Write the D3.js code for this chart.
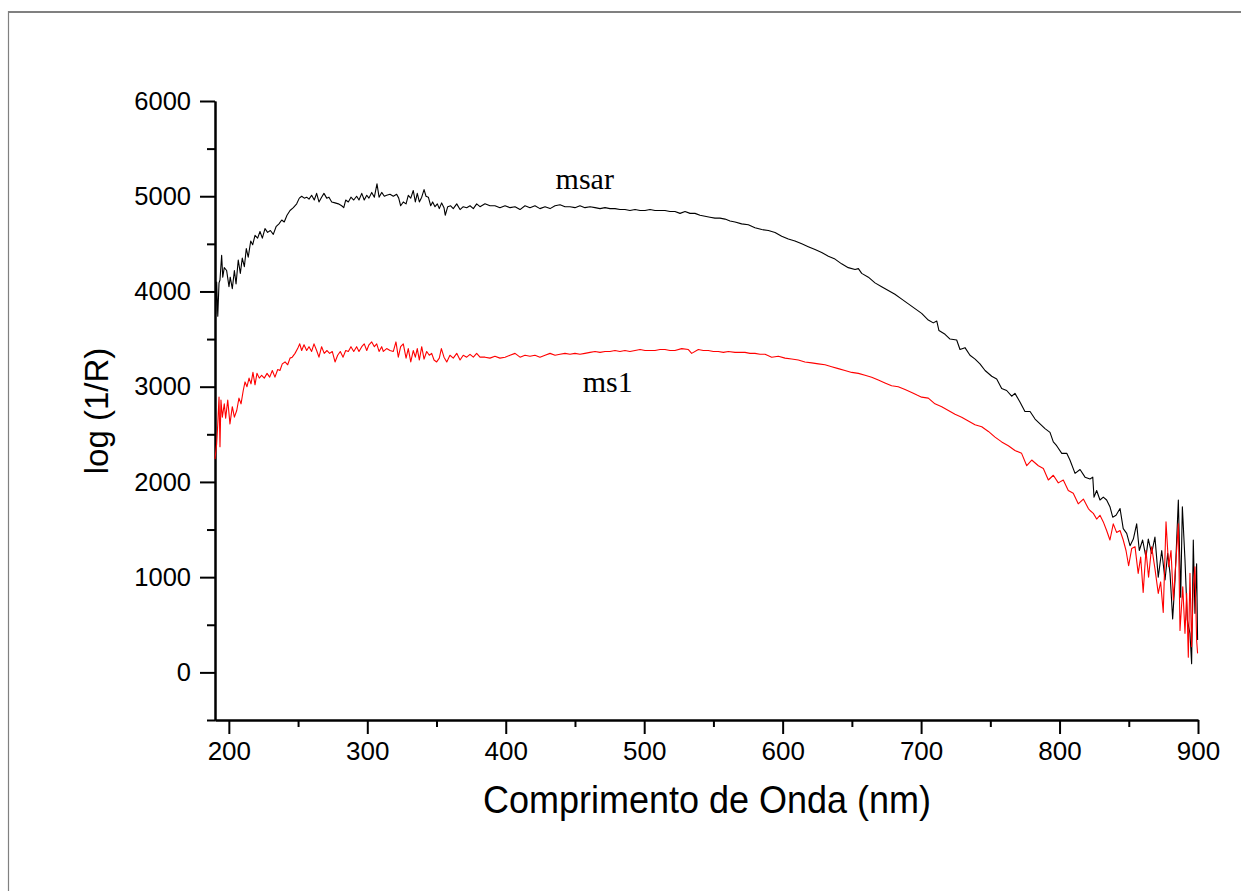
<!DOCTYPE html>
<html>
<head>
<meta charset="utf-8">
<script src="https://cdn.jsdelivr.net/npm/d3@7"></script>
<style>
  html, body { margin: 0; padding: 0; background: #fff; }
  svg { display: block; }
</style>
</head>
<body>
<svg id="chart" width="1241" height="891"></svg>
<script>
// ===== Dades (llegides de la figura) =====
const xMajor = [200, 300, 400, 500, 600, 700, 800, 900];
const xMinor = [250, 350, 450, 550, 650, 750, 850];
const yMajor = [0, 1000, 2000, 3000, 4000, 5000, 6000];
const yMinor = [-500, 500, 1500, 2500, 3500, 4500, 5500];

// [nm, log(1/R)]
const msar = [
  [190.5,3760],[191.2,4100],[192.0,3740],[192.9,4090],[193.6,4120],[194.8,4380],[195.6,4150],[196.7,4250],
  [198.4,4220],[200.1,4050],[201.0,4150],[202.5,4030],[204.0,4220],[205.2,4080],[206.8,4330],[208.3,4190],
  [209.7,4350],[211.2,4260],[212.6,4450],[214.0,4360],[215.8,4530],[217.2,4490],[218.9,4590],[220.8,4560],
  [222.5,4630],[224.2,4560],[226.1,4660],[228.0,4620],[230.0,4640],[232.1,4600],[234.1,4680],[236.2,4710],
  [238.2,4750],[240.0,4730],[242.0,4800],[244.2,4850],[246.6,4880],[249.0,4920],[250.9,4980],[252.6,5000],
  [254.5,4980],[256.2,4990],[257.9,4970],[259.8,5010],[261.7,4960],[263.4,5030],[265.1,4940],[267.0,4990],
  [268.7,5030],[270.7,4980],[272.3,4990],[274.3,4940],[276.7,4930],[279.1,4920],[281.5,4900],[283.0,4880],
  [284.4,4960],[286.3,4940],[288.2,4990],[290.2,4960],[292.3,5000],[294.0,4960],[296.0,5030],[297.8,4960],
  [299.6,5010],[301.2,4980],[303.2,5040],[305.1,4990],[307.0,5130],[308.5,4990],[310.4,5040],[312.3,5000],
  [314.0,5010],[316.4,5020],[318.8,5000],[321.2,5020],[322.7,4980],[324.1,4900],[326.0,4940],[328.0,4920],
  [329.6,5010],[331.4,4980],[333.2,5060],[334.7,4940],[336.1,5030],[337.6,4940],[339.3,4990],[341.0,5070],
  [342.4,5000],[344.1,4990],[345.8,4900],[347.2,4940],[348.9,4890],[350.6,4920],[352.0,4870],[353.7,4930],
  [355.4,4880],[356.3,4800],[358.1,4890],[360.2,4900],[362.1,4870],[364.6,4920],[367.0,4860],[369.3,4890],
  [371.8,4880],[374.2,4900],[376.6,4870],[379.0,4920],[381.4,4890],[385.0,4920],[388.6,4900],[392.2,4900],
  [395.8,4880],[399.5,4900],[403.1,4880],[406.7,4890],[410.3,4860],[413.9,4900],[417.5,4880],[421.1,4900],
  [424.7,4870],[428.4,4890],[432.0,4870],[435.6,4900],[439.2,4910],[442.8,4890],[446.4,4890],[450.0,4880],
  [453.6,4900],[457.2,4880],[460.9,4890],[464.5,4880],[468.1,4870],[471.7,4880],[475.3,4870],[478.9,4870],
  [482.5,4860],[486.1,4860],[489.7,4850],[493.4,4860],[497.0,4850],[500.6,4850],[504.2,4860],[507.8,4850],
  [511.4,4850],[515.0,4850],[518.6,4840],[522.2,4840],[525.9,4820],[529.5,4840],[533.1,4820],[536.7,4820],
  [540.3,4800],[543.9,4790],[547.5,4780],[551.1,4770],[554.7,4770],[558.4,4760],[562.0,4740],[565.6,4730],
  [570.4,4710],[575.2,4700],[580.0,4670],[584.9,4650],[589.7,4640],[594.5,4620],[599.3,4580],[604.1,4550],
  [608.9,4530],[613.8,4500],[618.5,4470],[623.4,4440],[628.2,4410],[633.0,4370],[637.8,4340],[642.6,4290],
  [647.4,4250],[652.3,4230],[654.7,4240],[657.1,4190],[661.9,4150],[666.7,4090],[671.5,4050],[676.3,4010],
  [681.1,3970],[686.0,3920],[690.8,3870],[695.6,3820],[700.4,3770],[705.2,3700],[708.8,3670],[711.3,3690],
  [712.9,3590],[717.3,3550],[720.9,3500],[725.7,3490],[728.1,3390],[731.7,3410],[735.3,3330],[739.0,3290],
  [742.5,3240],[746.2,3170],[751.0,3110],[754.6,3080],[758.2,2980],[761.8,2960],[765.4,2900],[767.8,2930],
  [771.4,2840],[775.0,2740],[778.7,2740],[782.3,2660],[785.9,2610],[789.5,2560],[793.1,2520],[795.5,2420],
  [797.9,2380],[801.6,2300],[805.2,2300],[807.5,2230],[811.2,2090],[814.8,2130],[818.4,2050],[822.0,2030],
  [824.0,2050],[824.9,1840],[826.8,1910],[829.2,1810],[831.6,1840],[834.0,1810],[836.4,1740],[838.4,1630],
  [840.8,1650],[843.7,1720],[846.0,1510],[848.5,1460],[850.9,1330],[853.3,1400],[855.7,1560],[857.6,1280],
  [860.0,1390],[862.4,1210],[864.1,1400],[866.5,1250],[868.9,1420],[871.3,1000],[873.8,1280],[876.2,970],
  [878.1,1250],[879.8,1040],[881.7,560],[883.4,970],[885.8,1810],[887.5,790],[888.7,1740],[890.6,1180],
  [892.3,550],[894.2,410],[895.4,90],[896.6,1390],[897.8,620],[899.0,1140],[899.7,340]
];

const ms1 = [
  [190.0,2240],[191.2,2400],[192.0,2610],[192.9,2890],[193.6,2370],[194.3,2860],[195.3,2680],[196.7,2820],
  [197.7,2670],[199.2,2860],[200.8,2610],[202.5,2790],[204.0,2680],[205.7,2750],[207.3,2880],[208.8,2820],
  [210.4,2960],[211.7,3050],[213.1,3000],[214.6,3090],[216.0,3030],[217.4,3150],[218.9,3020],[220.3,3140],
  [222.0,3090],[223.7,3120],[225.6,3090],[227.6,3140],[229.5,3100],[231.4,3170],[233.3,3100],[235.3,3180],
  [236.9,3170],[238.6,3240],[240.6,3260],[242.5,3230],[244.2,3300],[245.8,3310],[247.8,3350],[249.7,3400],
  [251.2,3450],[252.6,3380],[254.3,3440],[256.2,3380],[257.9,3420],[259.8,3370],[261.5,3450],[263.4,3380],
  [265.1,3310],[267.0,3420],[268.9,3350],[270.9,3380],[272.8,3350],[274.7,3370],[276.7,3260],[278.6,3330],
  [280.5,3370],[282.5,3310],[284.4,3380],[286.3,3370],[288.2,3420],[290.2,3370],[292.3,3420],[294.0,3370],
  [296.0,3420],[297.8,3450],[299.6,3380],[301.2,3440],[303.2,3470],[305.1,3420],[306.8,3450],[308.5,3370],
  [310.4,3420],[311.6,3370],[314.0,3400],[316.4,3380],[318.8,3370],[320.7,3470],[322.4,3310],[324.1,3420],
  [326.0,3450],[328.0,3300],[329.6,3400],[331.4,3260],[333.2,3380],[334.7,3310],[336.1,3400],[337.6,3280],
  [339.3,3420],[341.0,3290],[342.9,3370],[344.8,3330],[346.5,3350],[348.2,3280],[350.1,3260],[352.0,3300],
  [353.5,3400],[355.4,3310],[357.4,3260],[359.7,3330],[362.1,3300],[364.6,3350],[367.0,3280],[369.3,3330],
  [371.8,3310],[374.2,3340],[376.6,3310],[379.0,3350],[381.4,3310],[385.0,3310],[388.6,3300],[392.2,3320],
  [395.8,3300],[399.5,3310],[403.1,3330],[406.7,3350],[410.3,3310],[413.9,3330],[417.5,3320],[421.1,3330],
  [424.7,3310],[428.4,3330],[432.0,3350],[435.6,3330],[439.2,3340],[442.8,3350],[446.4,3340],[450.0,3350],
  [453.6,3340],[457.2,3350],[460.9,3360],[464.5,3370],[468.1,3360],[471.7,3370],[475.3,3370],[478.9,3380],
  [482.5,3370],[486.1,3380],[489.7,3370],[493.4,3380],[497.0,3390],[500.6,3380],[504.2,3380],[507.8,3380],
  [511.4,3390],[515.0,3390],[518.6,3380],[522.2,3380],[527.1,3400],[531.9,3390],[534.3,3350],[539.1,3390],
  [542.7,3380],[546.3,3380],[550.0,3370],[553.5,3370],[557.2,3360],[560.8,3370],[565.6,3360],[569.2,3360],
  [572.8,3360],[576.4,3350],[580.0,3350],[583.6,3340],[587.3,3340],[592.1,3310],[596.9,3320],[601.7,3300],
  [606.5,3290],[611.3,3280],[616.1,3260],[621.0,3250],[625.8,3240],[630.6,3230],[635.4,3210],[640.2,3190],
  [645.0,3170],[649.9,3150],[654.7,3140],[659.5,3120],[664.3,3100],[669.1,3070],[673.9,3040],[678.7,3010],
  [683.5,3000],[688.4,2970],[693.2,2940],[697.4,2910],[700.4,2890],[705.2,2880],[710.0,2820],[714.9,2790],
  [719.7,2750],[724.5,2710],[729.3,2680],[734.1,2640],[738.9,2600],[743.8,2580],[748.6,2530],[753.4,2470],
  [758.2,2420],[763.0,2380],[767.8,2330],[772.6,2300],[776.3,2170],[779.9,2230],[784.7,2170],[788.3,2140],
  [791.9,2020],[795.5,2070],[799.1,1990],[802.7,2020],[806.3,1910],[809.9,1880],[813.5,1770],[817.2,1820],
  [820.8,1720],[822.0,1700],[824.4,1670],[826.8,1610],[829.2,1650],[831.6,1580],[834.0,1490],[836.4,1390],
  [838.8,1560],[841.2,1470],[843.7,1490],[846.0,1390],[848.0,1280],[849.9,1120],[852.1,1300],[854.5,1320],
  [856.8,1040],[858.6,1210],[860.4,840],[862.4,1280],[864.3,1000],[866.5,1320],[868.9,1090],[871.3,830],
  [873.0,950],[874.9,630],[876.9,1580],[878.8,1110],[880.5,1280],[882.2,760],[884.1,1180],[885.8,1560],
  [887.0,440],[889.0,900],[890.6,410],[891.8,830],[893.0,160],[894.2,1040],[895.4,270],[896.6,900],
  [897.8,1110],[899.0,340],[899.7,200]
];

const seriesLabels = [
  { text: "msar", nm: 436, v: 5075 },
  { text: "ms1", nm: 455.6, v: 2940 }
];

// ===== Escales =====
const svg = d3.select("#chart");

svg.append("rect")
  .attr("width", 1241)
  .attr("height", 891)
  .attr("fill", "#fff");

// marc gris de la figura
svg.append("line")
  .attr("x1", 8).attr("x2", 1241)
  .attr("y1", 12).attr("y2", 12)
  .attr("stroke", "#808080")
  .attr("stroke-width", 2);
svg.append("line")
  .attr("x1", 8.5).attr("x2", 8.5)
  .attr("y1", 11).attr("y2", 891)
  .attr("stroke", "#808080")
  .attr("stroke-width", 1.2);

const x = d3.scaleLinear().domain([190, 900]).range([215, 1198]);
const y = d3.scaleLinear().domain([-500, 6000]).range([720, 101]);

const tickFont = "'Liberation Sans', Arial, sans-serif";
const fmt = d3.format("d");

// ===== Eixos =====
const gx = svg.append("g").attr("transform", "translate(0,720)");
gx.call(d3.axisBottom(x).tickValues(xMajor).tickSize(14).tickSizeOuter(0).tickPadding(8).tickFormat(fmt));
gx.append("g").call(d3.axisBottom(x).tickValues(xMinor).tickSize(7).tickSizeOuter(0).tickFormat(""));

const gy = svg.append("g").attr("transform", "translate(215,0)");
gy.call(d3.axisLeft(y).tickValues(yMajor).tickSize(15).tickSizeOuter(0).tickPadding(9).tickFormat(fmt));
gy.append("g").call(d3.axisLeft(y).tickValues(yMinor).tickSize(8).tickSizeOuter(0).tickFormat(""));

svg.selectAll(".domain").attr("stroke", "#000").attr("stroke-width", 2);
svg.selectAll(".tick line").attr("stroke", "#000").attr("stroke-width", 2);
svg.selectAll(".tick text")
  .attr("fill", "#000")
  .style("font-family", tickFont);
gx.selectAll(".tick text").style("font-size", "26px");
gy.selectAll(".tick text").style("font-size", "25.5px");

// ===== Corbes =====
const line = d3.line()
  .x(d => x(d[0]))
  .y(d => y(d[1]));

svg.append("path")
  .datum(msar)
  .attr("d", line)
  .attr("fill", "none")
  .attr("stroke", "#000")
  .attr("stroke-width", 1.1)
  .attr("stroke-linejoin", "round");

svg.append("path")
  .datum(ms1)
  .attr("d", line)
  .attr("fill", "none")
  .attr("stroke", "#ff0000")
  .attr("stroke-width", 1.1)
  .attr("stroke-linejoin", "round");

// ===== Etiquetes =====
svg.selectAll(".serie-label")
  .data(seriesLabels)
  .enter()
  .append("text")
  .attr("class", "serie-label")
  .attr("x", d => x(d.nm))
  .attr("y", d => y(d.v))
  .text(d => d.text)
  .style("font-family", "'Liberation Serif', 'Times New Roman', serif")
  .style("font-size", "30px")
  .attr("fill", "#000");

// Títols dels eixos
svg.append("text")
  .attr("transform", "translate(707,813) scale(1,1.1)")
  .attr("text-anchor", "middle")
  .text("Comprimento de Onda (nm)")
  .style("font-family", tickFont)
  .style("font-size", "36px");

svg.append("text")
  .attr("transform", "translate(108,411) rotate(-90)")
  .attr("text-anchor", "middle")
  .text("log (1/R)")
  .style("font-family", tickFont)
  .style("font-size", "33px");
</script>
</body>
</html>
